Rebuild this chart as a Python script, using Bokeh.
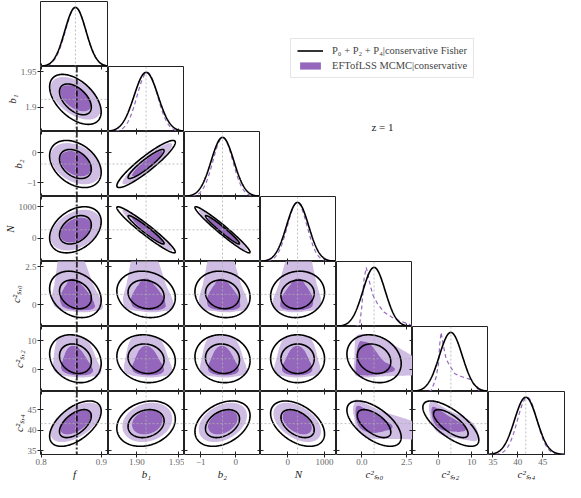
import numpy as np
from bokeh.plotting import figure
from bokeh.models import (Range1d, FixedTicker, LinearAxis, Span, Legend,
                          LegendItem, Label, GridBox)
from bokeh.embed import file_html
from bokeh.resources import INLINE

# ---------------- data ----------------
names = ["f", "b1", "b2", "N", "c2s0", "c2s2", "c2s4"]
axis_labels = ["f", "b₁", "b₂", "N", "c²ₛ,₀", "c²ₛ,₂", "c²ₛ,₄"]
lo = [0.799, 1.866, -1.46, -740, -1.42, -7.6, 34.1]
hi = [0.912, 1.957, 0.70, 1330, 2.83, 15.0, 49.4]
tick_values = [[0.8, 0.9], [1.90, 1.95], [-1, 0], [0, 1000], [0.0, 2.5], [0, 10], [35, 40, 45]]
x_tick_text = [["0.8", "0.9"], ["1.90", "1.95"], ["−1", "0"], ["0", "1000"],
               ["0.0", "2.5"], ["0", "10"], ["35", "40", "45"]]
y_tick_text = [["0.8", "0.9"], ["1.9", "1.95"], ["−1", "0"], ["0", "1000"],
               ["0", "2.5"], ["0", "10"], ["35", "40", "45"]]

fiducial = [0.857, 1.911, -0.38, 270, 0.68, 3.8, 41.6]
f_marker = 0.8595

# Fisher forecast (black)
fisher_mean = [0.857, 1.911, -0.38, 270, 0.68, 3.8, 41.6]
fisher_sigma = [0.0175, 0.0143, 0.32, 300, 0.62, 3.4, 2.25]
fisher_corr = [
    [1.00, -0.50, -0.35, 0.35, -0.25, -0.20, 0.55],
    [-0.50, 1.00, 0.92, -0.96, -0.15, -0.10, 0.20],
    [-0.35, 0.92, 1.00, -0.97, -0.12, -0.08, 0.35],
    [0.35, -0.96, -0.97, 1.00, 0.08, 0.00, -0.45],
    [-0.25, -0.15, -0.12, 0.08, 1.00, -0.20, -0.60],
    [-0.20, -0.10, -0.08, 0.00, -0.20, 1.00, -0.72],
    [0.55, 0.20, 0.35, -0.45, -0.60, -0.72, 1.00],
]

# EFTofLSS MCMC (purple): Gaussian marginals where symmetric, tabulated otherwise
mcmc_mean = [0.8575, 1.9125, -0.37, 260, None, None, 41.9]
mcmc_sigma = [0.0170, 0.0122, 0.28, 265, None, None, 1.95]
# 1D dashed curves
c2s0_x = [-0.40, -0.13, 0.00, 0.12, 0.24, 0.33, 0.42, 0.60, 0.88, 1.25, 1.80, 2.26, 2.72, 3.10]
c2s0_h = [0.00, 0.02, 0.35, 0.80, 1.00, 0.90, 0.76, 0.54, 0.38, 0.24, 0.135, 0.08, 0.03, 0.00]
c2s2_x = [-2.8, -2.0, -1.1, -0.56, 0.12, 0.50, 0.91, 1.50, 2.40, 3.55, 5.00, 7.10, 9.40, 10.9, 12.4, 13.2]
c2s2_h = [0.00, 0.02, 0.15, 0.25, 0.46, 0.80, 1.00, 0.80, 0.55, 0.43, 0.30, 0.25, 0.21, 0.10, 0.01, 0.00]
# smoothed marginals implied by the 2D filled contours
c2s0_2d_x = [-0.60, -0.42, -0.25, -0.10, 0.10, 0.30, 0.50, 0.75, 1.00, 1.30, 1.80, 2.30, 2.80, 3.30, 3.70]
c2s0_2d_h = [0.00, 0.08, 0.60, 0.95, 1.00, 0.98, 0.85, 0.62, 0.45, 0.32, 0.22, 0.16, 0.12, 0.06, 0.00]
c2s2_2d_x = [-3.2, -2.4, -1.4, -0.5, 0.5, 1.5, 3.0, 5.0, 7.0, 9.0, 10.5, 12.0, 13.0]
c2s2_2d_h = [0.00, 0.10, 0.60, 0.95, 1.00, 0.90, 0.65, 0.48, 0.36, 0.25, 0.17, 0.06, 0.00]
mcmc_table_1d = {4: (c2s0_x, c2s0_h), 5: (c2s2_x, c2s2_h)}
mcmc_table_2d = {4: (c2s0_2d_x, c2s0_2d_h), 5: (c2s2_2d_x, c2s2_2d_h)}
mcmc_corr = [
    [1.00, -0.50, -0.35, 0.35, -0.25, -0.20, 0.55],
    [-0.50, 1.00, 0.92, -0.96, -0.15, -0.10, 0.20],
    [-0.35, 0.92, 1.00, -0.97, -0.12, -0.08, 0.35],
    [0.35, -0.96, -0.97, 1.00, 0.08, 0.00, -0.45],
    [-0.25, -0.15, -0.12, 0.08, 1.00, -0.10, -0.55],
    [-0.20, -0.10, -0.08, 0.00, -0.10, 1.00, -0.65],
    [0.55, 0.20, 0.35, -0.45, -0.55, -0.65, 1.00],
]

legend_labels = ["P₀ + P₂ + P₄|conservative Fisher", "EFTofLSS MCMC|conservative"]
legend_swatch = [0.5]   # single dummy point so the legend swatches are drawn
redshift_text = "z = 1"

# ---------------- styling ----------------
FW, FH = 76, 65
LB, BB, TB, RB = 32, 26, 1, 1
LIGHT, DARK = "#cfbde4", "#9467bd"
FONT = "Liberation Serif"
n = len(names)

# ---------------- helpers ----------------
zt = np.linspace(-8, 8, 8001)
Phit = np.cumsum(np.exp(-0.5 * zt ** 2))
Phit = Phit / Phit[-1]


def mcmc_marginal(k):
    if k in mcmc_table_2d:
        tx, th = mcmc_table_2d[k]
        xs = np.linspace(tx[0], tx[-1], 220)
        pdf = np.interp(xs, tx, th)
    else:
        m, s = mcmc_mean[k], mcmc_sigma[k]
        xs = np.linspace(m - 5 * s, m + 5 * s, 220)
        pdf = np.exp(-0.5 * ((xs - m) / s) ** 2)
    cdf = np.cumsum(pdf) - 0.5 * pdf
    cdf = cdf / cdf[-1]
    u = np.interp(np.clip(cdf, 1e-9, 1 - 1e-9), Phit, zt)
    return xs, pdf, u


marg = [mcmc_marginal(k) for k in range(n)]


def style_axis(ax, k, show, is_x):
    ax.ticker = FixedTicker(ticks=tick_values[k], minor_ticks=[])
    ax.major_tick_in = 3
    ax.minor_tick_in = 0
    ax.minor_tick_out = 0
    ax.axis_line_color = None
    ax.major_tick_line_color = "#222222"
    ax.major_tick_line_width = 1
    if show:
        txt = x_tick_text[k] if is_x else y_tick_text[k]
        ax.major_label_overrides = {float(t): s for t, s in zip(tick_values[k], txt)}
        ax.major_tick_out = 3
        ax.major_label_text_font = FONT
        ax.major_label_text_font_size = "9px"
        ax.major_label_text_color = "#666666"
        ax.major_label_standoff = 1
        ax.axis_label = axis_labels[k]
        ax.axis_label_text_font = FONT
        ax.axis_label_text_font_style = "italic"
        ax.axis_label_text_font_size = "11px"
        ax.axis_label_text_color = "#222222"
        ax.axis_label_standoff = 0
    else:
        ax.major_tick_out = 0
        ax.major_label_text_font_size = "0px"
        ax.major_label_text_color = None
        ax.major_label_text_alpha = 0
        ax.major_label_standoff = 0


def fid_span(k, dim):
    return Span(location=fiducial[k], dimension=dim, line_color="#b0b0b0",
                line_dash="2 2", line_width=0.8)


def new_fig(r, c, one_d):
    w = FW + (LB if c == 0 else 0) + (RB if c == n - 1 else 0)
    h = FH + (TB if r == 0 else 0) + (BB if r == n - 1 else 0)
    fig = figure(width=w, height=h, x_range=Range1d(lo[c], hi[c]),
                 y_range=Range1d(0, 1.1) if one_d else Range1d(lo[r], hi[r]),
                 output_backend="svg", toolbar_location=None,
                 y_axis_location=None if one_d else "left",
                 min_border_left=LB if c == 0 else 0,
                 min_border_right=RB if c == n - 1 else 0,
                 min_border_top=TB if r == 0 else 0,
                 min_border_bottom=BB if r == n - 1 else 0)
    fig.grid.visible = False
    fig.outline_line_color = "#222222"
    fig.outline_line_width = 1
    fig.background_fill_color = "white"
    fig.border_fill_color = "white"
    style_axis(fig.xaxis[0], c, r == n - 1, True)
    if not one_d:
        style_axis(fig.yaxis[0], r, c == 0, False)
        ax = LinearAxis()
        style_axis(ax, r, False, False)
        fig.add_layout(ax, "right")
        ax = LinearAxis()
        style_axis(ax, c, False, True)
        fig.add_layout(ax, "above")
    return fig


children = []
for r in range(n):
    for c in range(r + 1):
        if r == c:
            fig = new_fig(r, c, True)
            fig.add_layout(fid_span(c, "height"))
            xs = np.linspace(lo[c], hi[c], 240)
            if c in mcmc_table_1d:
                mx, my = mcmc_table_1d[c]
            else:
                mx = xs
                my = np.exp(-0.5 * ((xs - mcmc_mean[c]) / mcmc_sigma[c]) ** 2)
            fig.line(mx, my, line_color=DARK, line_width=1.2, line_dash="4 3")
            fy = np.exp(-0.5 * ((xs - fisher_mean[c]) / fisher_sigma[c]) ** 2)
            fig.line(xs, fy, line_color="black", line_width=1.6)
        else:
            fig = new_fig(r, c, False)
            # MCMC filled contours (Gaussian copula with the read marginals)
            xs, px, u = marg[c]
            ys, py, v = marg[r]
            U, V = np.meshgrid(u, v)
            PX, PY = np.meshgrid(px, py)
            rho = mcmc_corr[r][c]
            logc = (-(U ** 2 - 2 * rho * U * V + V ** 2) / (2 * (1 - rho ** 2))
                    + 0.5 * (U ** 2 + V ** 2) - 0.5 * np.log(1 - rho ** 2))
            Z = np.exp(np.clip(logc, -50, 50)) * PX * PY
            zs = np.sort(Z.ravel())[::-1]
            cs = np.cumsum(zs) / zs.sum()
            l68 = zs[np.searchsorted(cs, 0.68)]
            l95 = zs[np.searchsorted(cs, 0.95)]
            fig.contour(xs, ys, Z, levels=[l95, l68, Z.max() * 1.01],
                        fill_color=[LIGHT, DARK], line_color=None)
            fig.add_layout(fid_span(c, "height"))
            fig.add_layout(fid_span(r, "width"))
            # Fisher ellipses (68% and 95%)
            sx, sy = fisher_sigma[c], fisher_sigma[r]
            rf = fisher_corr[r][c]
            cov = np.array([[sx * sx, rf * sx * sy], [rf * sx * sy, sy * sy]])
            L = np.linalg.cholesky(cov)
            th = np.linspace(0, 2 * np.pi, 200)
            circ = np.vstack([np.cos(th), np.sin(th)])
            for d2 in (2.279, 5.991):
                pts = L @ (np.sqrt(d2) * circ)
                fig.line(fisher_mean[c] + pts[0], fisher_mean[r] + pts[1],
                         line_color="black", line_width=1.6)
            if c == 0:
                fig.add_layout(Span(location=f_marker, dimension="height",
                                    line_color="black", line_dash="6 2 2 2",
                                    line_width=1.4))
        children.append((fig, r, c))

# legend / annotation panel in the empty upper-right region
blank = figure(width=4 * FW + FW + RB, height=TB + 2 * FH, x_range=(0, 1), y_range=(0, 1),
               x_axis_location=None, y_axis_location=None, toolbar_location=None,
               output_backend="svg", min_border=0)
blank.grid.visible = False
blank.outline_line_color = None
rl = blank.line(legend_swatch, legend_swatch, line_color="black", line_width=1.6)
rq = blank.quad(left=legend_swatch, right=legend_swatch, top=legend_swatch,
                bottom=legend_swatch, fill_color=DARK, line_color=None)
legend = Legend(items=[LegendItem(label=legend_labels[0], renderers=[rl]),
                       LegendItem(label=legend_labels[1], renderers=[rq])],
                location=(106, 53), glyph_width=26, glyph_height=9,
                label_text_font=FONT, label_text_font_size="10.5px",
                label_standoff=9, padding=6, spacing=4, margin=0,
                border_line_color="#cccccc", border_line_width=1,
                background_fill_alpha=0.9, label_height=11)
blank.add_layout(legend)
blank.add_layout(Label(x=198, y=-1, x_units="screen", y_units="screen", text=redshift_text,
                       text_font=FONT, text_font_size="11px", text_align="center",
                       text_color="#222222"))
children.append((blank, 0, 2, 2, 5))

grid = GridBox(children=children, spacing=0)
open("out.html", "w").write(file_html(grid, INLINE))
